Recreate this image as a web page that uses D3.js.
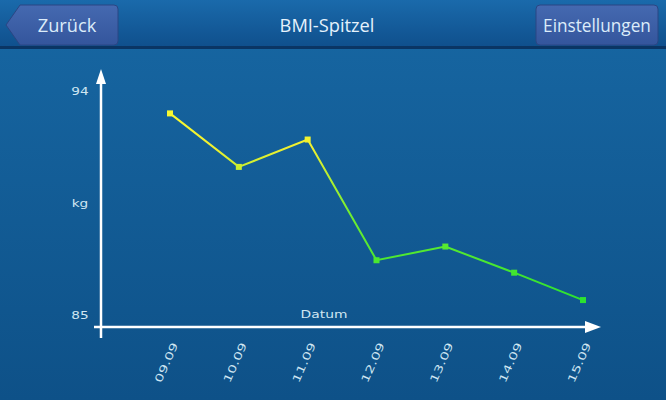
<!DOCTYPE html>
<html><head><meta charset="utf-8">
<script src="https://cdn.jsdelivr.net/npm/d3@7"></script>
<style>html,body{margin:0;padding:0;background:#0f5a91;overflow:hidden}</style>
</head><body>
<svg id="c" width="666" height="400"></svg>
<script>
const dates = ["09.09","10.09","11.09","12.09","13.09","14.09","15.09"];
const weights = [93.1, 90.95, 92.05, 87.2, 87.75, 86.7, 85.6];
const yTickLabels = [{v:94,t:"94"},{v:89.5,t:"kg"},{v:85,t:"85"}];
const title = "BMI-Spitzel";
const backLabel = "Zurück";
const settingsLabel = "Einstellungen";
const xAxisTitle = "Datum";

const svg = d3.select("#c");
const W=666,H=400;
const defs = svg.append("defs");
const bg = defs.append("linearGradient").attr("id","bg").attr("x1",0).attr("y1",0).attr("x2",0).attr("y2",1);
bg.append("stop").attr("offset","0%").attr("stop-color","#1767a3");
bg.append("stop").attr("offset","100%").attr("stop-color","#0e5188");
svg.append("rect").attr("width",W).attr("height",H).attr("fill","url(#bg)");

// header
const hg = defs.append("linearGradient").attr("id","hg").attr("x1",0).attr("y1",0).attr("x2",0).attr("y2",1);
hg.append("stop").attr("offset","0%").attr("stop-color","#1a6aab");
hg.append("stop").attr("offset","100%").attr("stop-color","#0f4f8c");
svg.append("rect").attr("width",W).attr("height",48).attr("fill","url(#hg)");
svg.append("rect").attr("y",46).attr("width",W).attr("height",3).attr("fill","#0a3564");
const bgB = defs.append("linearGradient").attr("id","btn").attr("x1",0).attr("y1",0).attr("x2",0).attr("y2",1);
bgB.append("stop").attr("offset","0%").attr("stop-color","#4569b0");
bgB.append("stop").attr("offset","100%").attr("stop-color","#34559c");
svg.append("path").attr("d","M6,25 L20,5 L114,5 Q118,5 118,9 L118,41 Q118,45 114,45 L20,45 Z")
  .attr("fill","url(#btn)").attr("stroke","#2a4684").attr("stroke-width",1);
svg.append("rect").attr("x",536).attr("y",5).attr("width",122).attr("height",40).attr("rx",4)
  .attr("fill","url(#btn)").attr("stroke","#2a4684").attr("stroke-width",1);
const hf = "'Open Sans', 'Noto Sans', sans-serif";
function hText(cx, str, size, sx, col){
  svg.append("text").attr("x",cx).attr("y",25).attr("dy","0.36em").attr("text-anchor","middle")
    .attr("font-family",hf).attr("font-size",size).attr("fill",col)
    .attr("transform",`translate(${cx},0) scale(${sx},1) translate(${-cx},0)`).text(str);
}
hText(67, backLabel, 19, 0.96, "#dcecfa");
hText(327, title, 19, 0.96, "#e6f2fc");
hText(597, settingsLabel, 18.5, 0.93, "#dcecfa");

// scales
const x = d3.scalePoint().domain(dates).range([170,583]);
const y = d3.scaleLinear().domain([85,94]).range([315,91]);

const axCol = "#ffffff";
const sf = "'DejaVu Sans', sans-serif";
const txtCol = "#cfe6f2";
// y axis
svg.append("line").attr("x1",101).attr("x2",101).attr("y1",338).attr("y2",82).attr("stroke",axCol).attr("stroke-width",2.5);
svg.append("path").attr("d","M101,69 L106,84 L96,84 Z").attr("fill",axCol);
// x axis
svg.append("line").attr("x1",94).attr("x2",590).attr("y1",327).attr("y2",327).attr("stroke",axCol).attr("stroke-width",2.5);
svg.append("path").attr("d","M601,327 L585,321 L585,333 Z").attr("fill",axCol);

svg.selectAll(".yl").data(yTickLabels).enter().append("text")
  .attr("transform",d=>`translate(80,${y(d.v)}) scale(1.3,1)`)
  .attr("dy","0.35em").attr("text-anchor","middle")
  .attr("font-family",sf).attr("font-size",10.5).attr("fill",txtCol).text(d=>d.t);
svg.append("text").attr("transform","translate(324,314) scale(1.32,1)")
  .attr("dy","0.35em").attr("text-anchor","middle")
  .attr("font-family",sf).attr("font-size",10.5).attr("fill",txtCol).text(xAxisTitle);

svg.selectAll(".xl").data(dates).enter().append("text")
  .attr("transform",d=>`translate(${x(d)+5},343) rotate(-66) scale(1.42,1)`)
  .attr("text-anchor","end").attr("dy","0.35em")
  .attr("font-family",sf).attr("font-size",10.5).attr("fill",txtCol).text(d=>d);

// line gradient
const lg = defs.append("linearGradient").attr("id","lg").attr("gradientUnits","userSpaceOnUse")
  .attr("x1",0).attr("y1",y(94)).attr("x2",0).attr("y2",y(85));
lg.append("stop").attr("offset","0%").attr("stop-color","#ffff30");
lg.append("stop").attr("offset","25%").attr("stop-color","#f0f030");
lg.append("stop").attr("offset","55%").attr("stop-color","#70ee30");
lg.append("stop").attr("offset","100%").attr("stop-color","#20e030");
const pts = dates.map((d,i)=>[x(d),y(weights[i])]);
svg.append("path").datum(pts).attr("d",d3.line()).attr("fill","none").attr("stroke","url(#lg)").attr("stroke-width",2);
svg.selectAll(".pt").data(pts).enter().append("rect")
  .attr("x",d=>d[0]-3).attr("y",d=>d[1]-3).attr("width",6).attr("height",6).attr("fill","url(#lg)");
</script>
</body></html>
